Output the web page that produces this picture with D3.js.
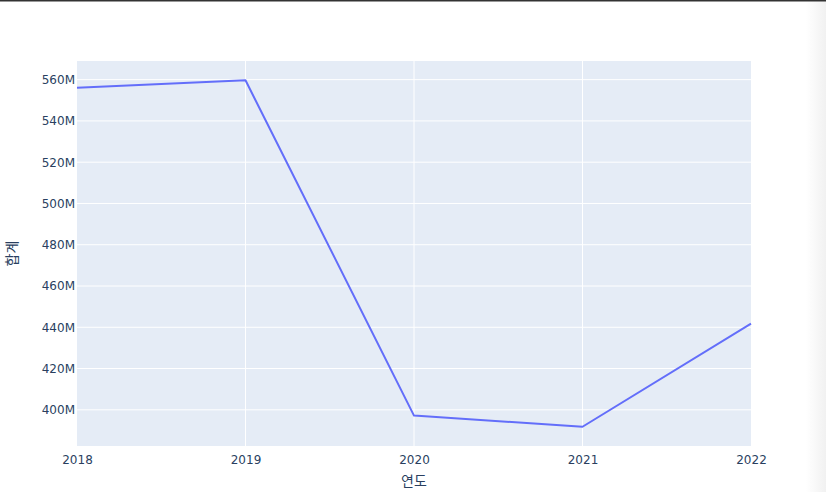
<!DOCTYPE html>
<html><head><meta charset="utf-8">
<script src="https://cdn.jsdelivr.net/npm/d3@7"></script>
<style>
html,body{margin:0;padding:0;background:#fff;overflow:hidden}
svg{display:block;font-family:"DejaVu Sans",verdana,arial,sans-serif}
</style></head>
<body>
<svg id="chart" width="826" height="492"></svg>
<script>
const years = [2018, 2019, 2020, 2021, 2022];
const totals = [556.1e6, 559.7e6, 397.2e6, 391.8e6, 441.8e6];
const yTicks = [400e6, 420e6, 440e6, 460e6, 480e6, 500e6, 520e6, 540e6, 560e6];
const xTitle = "연도";
const yTitle = "합계";

const FONT = '"DejaVu Sans",verdana,"Noto Sans CJK KR",sans-serif';
const svg = d3.select("#chart");
const W = 826, H = 492;
const m = {l: 77, r: 75, t: 61, b: 46};
const pw = W - m.l - m.r, ph = H - m.t - m.b;

// page chrome: top rule and right-edge shading
const defs = svg.append("defs");
const grad = defs.append("linearGradient").attr("id","edge").attr("x1","0").attr("x2","1");
grad.append("stop").attr("offset","0").attr("stop-color","#ffffff");
grad.append("stop").attr("offset","1").attr("stop-color","#f1f1f1");
svg.append("rect").attr("x",806).attr("y",0).attr("width",20).attr("height",H).attr("fill","url(#edge)");
svg.append("rect").attr("x",0).attr("y",0).attr("width",W).attr("height",1.5).attr("fill","#333");

const x = d3.scaleLinear().domain(d3.extent(years)).range([m.l, m.l + pw]);
const [ymin, ymax] = d3.extent(totals);
const pad = (ymax - ymin) * 0.0556;
const y = d3.scaleLinear().domain([ymin - pad, ymax + pad]).range([m.t + ph, m.t]);

svg.append("rect").attr("x", m.l).attr("y", m.t).attr("width", pw).attr("height", ph).attr("fill", "#e5ecf6");

// grid
svg.append("g").selectAll("line").data(yTicks).join("line")
  .attr("x1", m.l).attr("x2", m.l + pw)
  .attr("y1", d => y(d)).attr("y2", d => y(d))
  .attr("stroke", "#fff").attr("stroke-width", 1);
svg.append("g").selectAll("line").data(years.slice(1, -1)).join("line")
  .attr("y1", m.t).attr("y2", m.t + ph)
  .attr("x1", d => x(d)).attr("x2", d => x(d))
  .attr("stroke", "#fff").attr("stroke-width", 1);

// axes
const xAxis = d3.axisBottom(x).tickValues(years).tickFormat(d3.format("d")).tickSize(0).tickPadding(9);
const gx = svg.append("g").attr("transform", `translate(0,${m.t + ph})`).call(xAxis);
gx.select(".domain").remove();
gx.selectAll("text").attr("font-size", 12).attr("fill", "#2a3f5f").attr("font-family", FONT);

const yAxis = d3.axisLeft(y).tickValues(yTicks).tickFormat(d => d3.format("d")(d / 1e6) + "M").tickSize(0).tickPadding(2);
const gy = svg.append("g").attr("transform", `translate(${m.l},0)`).call(yAxis);
gy.select(".domain").remove();
gy.selectAll("text").attr("font-size", 12).attr("fill", "#2a3f5f").attr("font-family", FONT);

// line
const line = d3.line().x((d, i) => x(years[i])).y(d => y(d));
svg.append("path").datum(totals).attr("d", line)
  .attr("fill", "none").attr("stroke", "#636efa").attr("stroke-width", 2).attr("stroke-linejoin", "round");

// titles
svg.append("text").attr("x", m.l + pw / 2).attr("y", 486).attr("text-anchor", "middle")
  .attr("font-size", 14).attr("fill", "#2a3f5f")
  .attr("font-family", '"Noto Sans CJK KR",sans-serif').text(xTitle);
svg.append("text").attr("transform", `translate(17,${m.t + ph / 2}) rotate(-90)`).attr("text-anchor", "middle")
  .attr("font-size", 14).attr("fill", "#2a3f5f")
  .attr("font-family", '"Noto Sans CJK KR",sans-serif').text(yTitle);
</script>
</body></html>
